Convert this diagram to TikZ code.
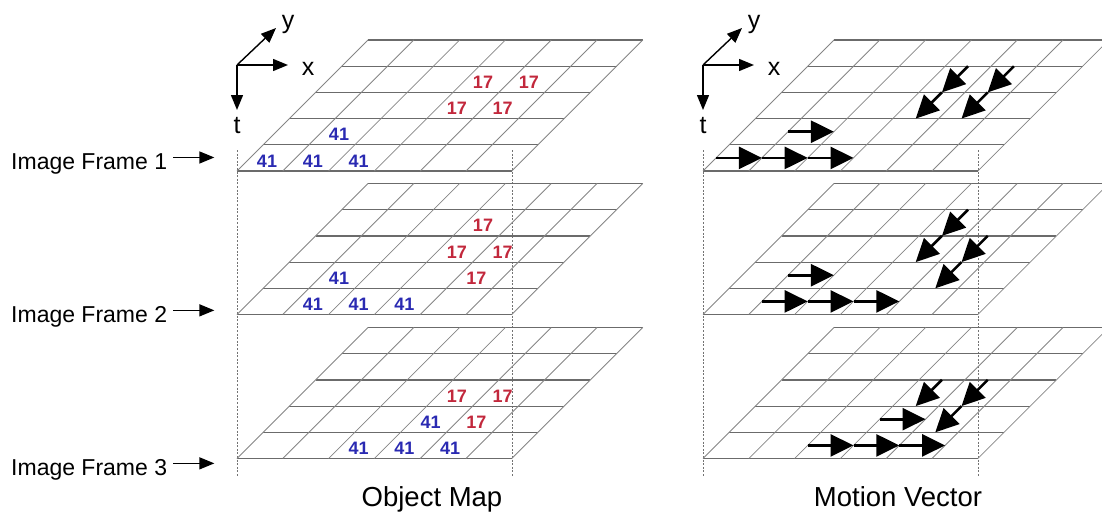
\documentclass[tikz,border=0pt]{standalone}
\usepackage{fontspec}
\setmainfont{Liberation Sans}
\usetikzlibrary{arrows.meta}
\definecolor{numblue}{HTML}{2A2AB2}
\definecolor{numred}{HTML}{C2283C}

\begin{document}
\begin{tikzpicture}[x=1pt, y=-1pt,
    rowline/.style={black!58, line width=1.2pt},
    colline/.style={black!48, line width=0.8pt},
    guide/.style={black!55, line width=0.6pt, dash pattern=on 2pt off 1.6pt},
    plane/.style 2 args={xshift=#1pt, yshift=-#2pt, x={(45.8pt,0pt)}, y={(26.2pt,26.2pt)}},
    num/.style={font=\fontsize{18}{20}\selectfont\bfseries, inner sep=0pt, xshift=-6pt, yshift=-3pt},
    val41/.style={text=numblue},
    val17/.style={text=numred},
    mv/.style={line width=2.6pt, -{Triangle[length=23pt, width=22pt]}},
    axis/.style={line width=1.4pt, -{Triangle[length=15pt, width=12pt]}},
    axlbl/.style={font=\fontsize{25}{27}\selectfont, anchor=base, inner sep=0pt},
    frm/.style={font=\fontsize{23}{26}\selectfont, anchor=base west, inner sep=0pt},
    lblarrow/.style={line width=1.4pt, -{Triangle[length=15pt, width=12pt]}},
    title/.style={font=\fontsize{27.5}{30}\selectfont, anchor=base, inner sep=0pt}]
  \useasboundingbox (0,0) rectangle (1102,511);
  \clip (0,0) rectangle (1102,511);

  \foreach \gx in {237,512,703,978}
    \draw[guide] (\gx,150) -- (\gx,477);

  % cell lists: column/row/value, 41 moves along x, 17 moves against y
  \foreach \fn/\fy/\cells in {
      1/171/{0/0/41,1/0/41,2/0/41,1/1/41,3/2/17,4/2/17,3/3/17,4/3/17},
      2/314.5/{1/0/41,2/0/41,3/0/41,1/1/41,4/1/17,3/2/17,4/2/17,3/3/17},
      3/458.5/{2/0/41,3/0/41,4/0/41,3/1/41,4/1/17,3/2/17,4/2/17}}
  { \foreach \gx in {237,703}
    { \begin{scope}[plane={\gx}{\fy}]
        \foreach \r in {0,...,5} \draw[rowline] (0,\r) -- (6,\r);
        \foreach \c in {0,...,6} \draw[colline] (\c,0) -- (\c,5);
      \end{scope} }
    \begin{scope}[plane={237}{\fy}]
      \foreach \ci/\cj/\cv in \cells
        \node[num, val\cv] (n\fn-\ci-\cj) at (\ci+.5,\cj+.5) {\cv};
    \end{scope}
    \begin{scope}[plane={703}{\fy}]
      \foreach \ci/\cj/\cv in \cells
      { \ifnum\cv=41 \draw[mv] (\ci,\cj+.5) -- (\ci+1,\cj+.5);
        \else \draw[mv] (\ci+.5,\cj+1) -- (\ci+.5,\cj); \fi }
    \end{scope} }

  \foreach \gx/\an in {237/l,703/r}
  { \coordinate (o\an) at (\gx,65);
    \coordinate (ox\an) at (\gx+51,65);
    \coordinate (oy\an) at (\gx+39,28);
    \coordinate (ot\an) at (\gx,110);
    \draw[axis] (o\an) -- (ox\an);
    \draw[axis] (o\an) -- (oy\an);
    \draw[axis] (o\an) -- (ot\an);
    \node[axlbl] (lx\an) at (\gx+71,75) {x};
    \node[axlbl] (ly\an) at (\gx+51,29) {y};
    \node[axlbl] (lt\an) at (\gx,133) {t}; }

  \foreach \fn/\fb in {1/169,2/322,3/475}
  { \node[frm] (f\fn) at (11,\fb) {Image Frame \fn};
    \draw[lblarrow] (f\fn.east) ++(6,-6) -- ++(41,0); }

  \node[title] (om) at (432,506) {Object Map};
  \node[title] (mvt) at (898,506) {Motion Vector};
\end{tikzpicture}
\end{document}
